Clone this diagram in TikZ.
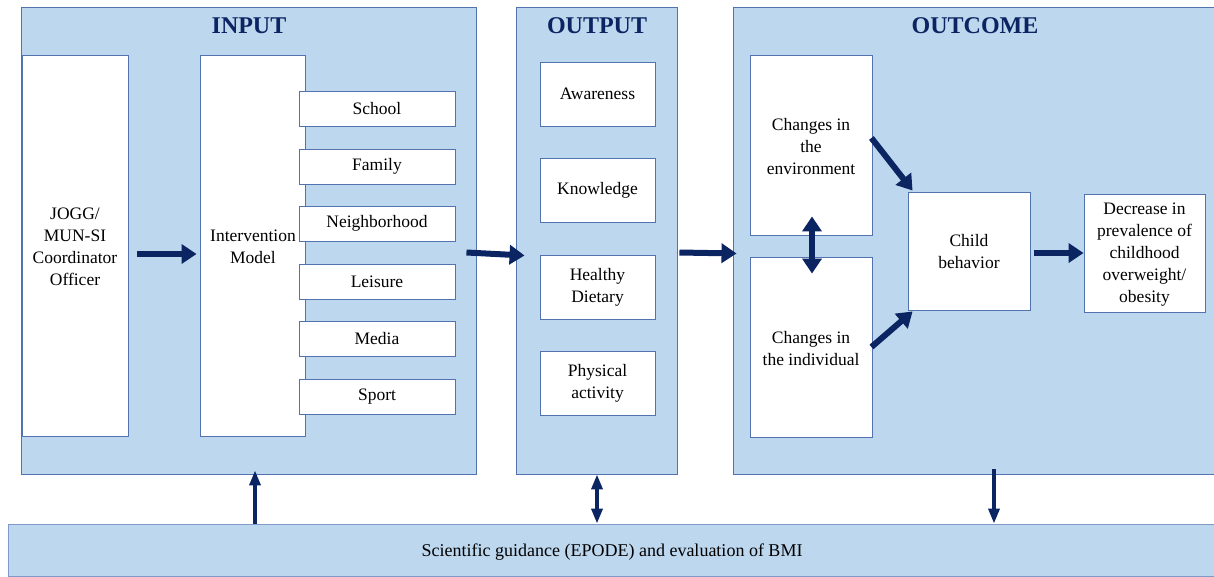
\documentclass[tikz,border=0pt]{standalone}
\usepackage{fontspec}
\setmainfont{Liberation Serif}
\usetikzlibrary{arrows.meta,calc}
\definecolor{panelfill}{HTML}{BDD7EE}
\definecolor{panelline}{HTML}{5272B0}
\definecolor{barline}{HTML}{7E9AC6}
\definecolor{navy}{HTML}{0B2462}
\tikzset{
  panel/.style={draw=panelline, fill=panelfill, line width=0.9pt, inner sep=0pt},
  bodyfont/.style={font=\fontsize{17.5}{22}\selectfont},
  box/.style={draw=panelline, fill=white, line width=0.9pt, inner sep=2pt, align=center,
    bodyfont, text=black},
  label/.style={bodyfont, align=center},
  heading/.style={font=\fontsize{24}{28}\selectfont\bfseries, text=navy},
  bigarrow/.style={draw=navy, line width=6pt, -{Triangle[width=19pt,length=15pt]}},
  bigboth/.style={draw=navy, line width=6pt, {Triangle[width=19pt,length=15pt]}-{Triangle[width=19pt,length=15pt]}},
  thinarrow/.style={draw=navy, line width=3.5pt, -{Triangle[width=11pt,length=15pt]}},
  thinboth/.style={draw=navy, line width=3.5pt, {Triangle[width=11pt,length=15pt]}-{Triangle[width=11pt,length=15pt]}},
}
\begin{document}
\begin{tikzpicture}[x=1pt,y=-1pt]
\useasboundingbox (0,0) rectangle (1214,576);

% three column panels
\node[panel, minimum width=455pt, minimum height=467pt] (input) at (248.5,240.5) {};
\node[panel, minimum width=161pt, minimum height=467pt] (output) at (596.5,240.5) {};
\node[panel, minimum width=484pt, minimum height=467pt] (outcome) at (975,240.5) {};
% bottom bar
\node[panel, draw=barline, minimum width=1210pt, minimum height=52pt] (bar) at (613,550) {};
\node[font=\fontsize{18}{21}\selectfont] (bartxt) at (612,552) {Scientific guidance (EPODE) and evaluation of BMI};

% headings
\node[heading] (tin) at (249,26) {INPUT};
\node[heading] (tout) at (597,26) {OUTPUT};
\node[heading] (toc) at (975,26) {OUTCOME};

% input column
\node[box, minimum width=106pt, minimum height=381pt] (jogg) at (75,245.5) {};
\node[label] (joggtxt) at (75,247) {JOGG/\\MUN-SI\\Coordinator\\Officer};
\node[box, minimum width=105pt, minimum height=381pt] (interv) at (252.5,245.5) {};
\node[label] (intervtxt) at (253,247) {Intervention\\Model};
\node[box, minimum width=156pt, minimum height=35pt] (school) at (377,108.5) {School};
\node[box, minimum width=156pt, minimum height=35pt] (family) at (377,166.5) {Family};
\node[box, minimum width=156pt, minimum height=35pt] (neigh) at (377,223.5) {Neighborhood};
\node[box, minimum width=156pt, minimum height=35pt] (leisure) at (377,281.5) {Leisure};
\node[box, minimum width=156pt, minimum height=35pt] (media) at (377,338.5) {Media};
\node[box, minimum width=156pt, minimum height=35pt] (sport) at (377,396.5) {Sport};

% output column
\node[box, minimum width=115pt, minimum height=64pt] (aware) at (597.5,94) {Awareness};
\node[box, minimum width=115pt, minimum height=64pt] (know) at (597.5,190) {Knowledge};
\node[box, minimum width=115pt, minimum height=64pt] (diet) at (597.5,287) {Healthy\\Dietary};
\node[box, minimum width=115pt, minimum height=64pt] (phys) at (597.5,383) {Physical\\activity};

% outcome column
\node[box, minimum width=122pt, minimum height=180pt] (env) at (811,145) {};
\node[label] (envtxt) at (811,147) {Changes in\\the\\environment};
\node[box, minimum width=122pt, minimum height=180pt] (indiv) at (811,347) {};
\node[label] (indivtxt) at (811,349) {Changes in\\the individual};
\node[box, minimum width=122pt, minimum height=118pt] (child) at (969,251) {};
\node[label] (childtxt) at (969,252) {Child\\behavior};
\node[box, minimum width=121pt, minimum height=118pt] (decr) at (1144.5,253) {};
\node[label] (decrtxt) at (1144.5,255) {Decrease in\\prevalence of\\childhood\\overweight/\\obesity};

% flow arrows
\draw[bigarrow] ($(jogg.east)+(9,8.5)$) -- ($(interv.west)+(-3,8.5)$);
\draw[bigarrow] ($(input.east)+(-10,12)$) -- ($(output.west)+(9,15)$);
\draw[bigarrow] ($(output.east)+(2,12)$) -- ($(outcome.west)+(4,13)$);
\draw[bigboth] ($(env.south)+(1,-19)$) -- ($(indiv.north)+(1,17)$);
\draw[bigarrow] ($(env.east)+(-1,-7)$) -- ($(child.north west)+(5,-1)$);
\draw[bigarrow] ($(indiv.east)+(-1,0)$) -- ($(child.south west)+(5,1)$);
\draw[bigarrow] ($(child.east)+(4,2)$) -- ($(decr.west)+(0,0)$);

% links to the bottom bar
\draw[thinarrow] (bar.north -| 255,0) -- ($(input.south -| 255,0)+(0,-4)$);
\draw[thinboth] (bar.north -| 597,0) -- (output.south -| 597,0);
\draw[thinarrow] ($(outcome.south -| 994,0)+(0,-5)$) -- (bar.north -| 994,0);
\end{tikzpicture}
\end{document}
